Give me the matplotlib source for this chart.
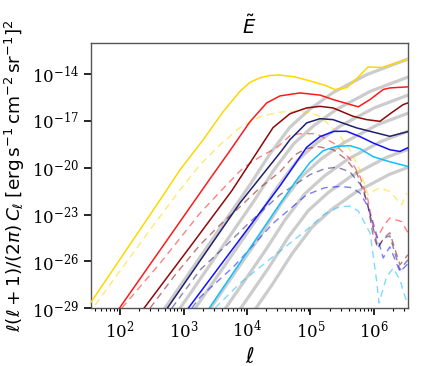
import numpy as np
import matplotlib
matplotlib.use("Agg")
import matplotlib.pyplot as plt

plt.rcParams['font.family'] = 'DejaVu Serif'
plt.rcParams['mathtext.fontset'] = 'dejavusans'

# ---- data: log10(ell) and log10(C) ----
gold_solid_l = [1.543, 2.63, 2.945, 3.31, 3.627, 3.89, 4.047, 4.205, 4.35, 4.5, 4.75, 5.0, 5.25, 5.386, 5.575, 5.75, 5.906, 6.126, 6.535]
gold_solid_c = [-28.60, -22.06, -20.13, -18.2, -16.39, -15.1, -14.53, -14.24, -14.1, -14.06, -14.18, -14.45, -14.75, -15.0, -14.87, -14.2, -13.55, -13.58, -13.05]
gold_dash_l = [1.606, 2.472, 2.945, 3.26, 3.575, 3.89, 4.205, 4.488, 4.756, 4.99, 5.15, 5.41, 5.62, 5.78, 5.905, 6.0, 6.094, 6.25, 6.436, 6.515]
gold_dash_c = [-28.79, -23.98, -21.41, -19.81, -18.53, -17.43, -16.73, -16.45, -16.37, -16.47, -16.71, -17.67, -18.85, -20.13, -21.73, -21.48, -21.29, -21.52, -22.38, -21.63]

red_solid_l = [1.99, 3.406, 3.732, 4.047, 4.31, 4.52, 4.835, 5.15, 5.36, 5.753, 5.937, 6.146, 6.25, 6.535]
red_solid_c = [-28.99, -20.77, -18.9, -17.05, -15.85, -15.4, -15.21, -15.35, -15.64, -16.1, -15.64, -14.99, -14.89, -14.82]
red_dash_l = [2.027, 2.63, 3.26, 3.575, 3.94, 4.205, 4.468, 4.677, 4.835, 5.098, 5.36, 5.62, 5.78, 5.905, 5.99, 6.047, 6.173, 6.25, 6.436, 6.535]
red_dash_c = [-28.99, -26.12, -22.91, -21.54, -20.0, -19.3, -18.72, -17.95, -17.82, -17.82, -18.42, -19.42, -20.56, -22.06, -23.85, -24.49, -23.6, -23.23, -23.45, -24.17]

maroon_solid_l = [2.378, 3.102, 3.759, 4.126, 4.41, 4.677, 4.94, 5.15, 5.354, 5.674, 5.885, 6.094, 6.28, 6.46, 6.535]
maroon_solid_c = [-28.99, -25.07, -21.48, -19.2, -17.43, -16.54, -16.17, -16.07, -16.17, -16.71, -16.92, -17.03, -16.47, -15.96, -15.85]
maroon_dash_l = [2.472, 2.866, 3.26, 3.575, 3.89, 4.205, 4.52, 4.756, 4.93, 5.118, 5.36, 5.57, 5.73, 5.905, 5.984, 6.063, 6.157, 6.25, 6.41, 6.535]
maroon_dash_c = [-28.99, -26.87, -24.94, -23.66, -22.5, -21.28, -20.26, -19.17, -18.78, -18.65, -18.85, -19.49, -20.34, -22.38, -24.3, -25.14, -24.5, -24.17, -26.22, -25.58]

navy_solid_l = [2.745, 3.89, 4.546, 4.677, 4.94, 5.15, 5.354, 5.727, 5.94, 6.25, 6.535]
navy_solid_c = [-28.99, -22.25, -18.91, -18.2, -17.13, -16.86, -16.92, -17.45, -17.67, -17.99, -17.69]
navy_dash_l = [2.815, 3.26, 3.68, 4.047, 4.52, 4.99, 5.228, 5.417, 5.62, 5.827, 5.94, 6.063, 6.157, 6.25, 6.41, 6.535]
navy_dash_c = [-28.99, -26.55, -24.94, -23.47, -21.73, -20.45, -20.06, -19.97, -20.26, -21.28, -23.02, -25.14, -24.5, -24.37, -26.55, -25.9]

blue_solid_l = [3.076, 4.047, 4.52, 4.772, 4.94, 5.15, 5.37, 5.57, 5.78, 5.99, 6.25, 6.41, 6.535]
blue_solid_c = [-28.99, -23.72, -21.16, -19.68, -18.69, -18.01, -17.67, -17.67, -18.01, -18.42, -18.85, -18.96, -18.72]
blue_dash_l = [3.13, 3.26, 3.784, 4.414, 4.94, 5.228, 5.465, 5.654, 5.78, 5.89, 5.99, 6.146, 6.25, 6.41, 6.535]
blue_dash_c = [-28.99, -28.29, -26.36, -23.55, -21.73, -21.28, -21.2, -21.28, -21.63, -22.38, -23.55, -25.78, -25.07, -26.66, -26.16]

cyan_solid_l = [3.406, 4.047, 4.52, 4.772, 4.99, 5.2, 5.41, 5.62, 5.78, 5.99, 6.25, 6.535]
cyan_solid_c = [-28.99, -25.14, -22.31, -20.84, -19.68, -18.91, -18.63, -18.59, -18.78, -19.30, -19.62, -19.92]
cyan_dash_l = [3.496, 3.89, 4.414, 4.94, 5.228, 5.465, 5.62, 5.75, 5.94, 6.04, 6.08, 6.2, 6.304, 6.41, 6.515]
cyan_dash_c = [-28.99, -27.4, -25.69, -23.98, -22.95, -22.49, -22.47, -22.76, -24.19, -27.19, -28.67, -26.98, -26.44, -27.19, -28.58]

gray1_l = [2.3, 4.047, 4.362, 4.677, 4.99, 5.354, 5.89, 6.6]
gray1_c = [-31.39, -21.09, -19.1, -17.4, -16.25, -15.19, -14.03, -12.94]
gray2_l = [2.358, 4.105, 4.42, 4.735, 5.048, 5.412, 5.948, 6.658]
gray2_c = [-32.458, -22.158, -20.168, -18.468, -17.318, -16.258, -15.098, -14.008]
gray3_l = [2.416, 4.163, 4.478, 4.793, 5.106, 5.47, 6.006, 6.716]
gray3_c = [-33.526, -23.226, -21.236, -19.536, -18.386, -17.326, -16.166, -15.076]
gray4_l = [2.474, 4.221, 4.536, 4.851, 5.164, 5.528, 6.064, 6.774]
gray4_c = [-34.594, -24.294, -22.304, -20.604, -19.454, -18.394, -17.234, -16.144]
gray5_l = [2.532, 4.279, 4.594, 4.909, 5.222, 5.586, 6.122, 6.832]
gray5_c = [-35.662, -25.362, -23.372, -21.672, -20.522, -19.462, -18.302, -17.212]
gray6_l = [2.59, 4.337, 4.652, 4.967, 5.28, 5.644, 6.18, 6.89]
gray6_c = [-36.73, -26.43, -24.44, -22.74, -21.59, -20.53, -19.37, -18.28]
gray7_l = [2.648, 4.395, 4.71, 5.025, 5.338, 5.702, 6.238, 6.948]
gray7_c = [-37.798, -27.498, -25.508, -23.808, -22.658, -21.598, -20.438, -19.348]

series = [
    ('#FFD700', gold_solid_l, gold_solid_c, gold_dash_l, gold_dash_c),
    ('#FF1A1A', red_solid_l, red_solid_c, red_dash_l, red_dash_c),
    ('#8B0A0A', maroon_solid_l, maroon_solid_c, maroon_dash_l, maroon_dash_c),
    ('#1F1F70', navy_solid_l, navy_solid_c, navy_dash_l, navy_dash_c),
    ('#1010FF', blue_solid_l, blue_solid_c, blue_dash_l, blue_dash_c),
    ('#10BFFF', cyan_solid_l, cyan_solid_c, cyan_dash_l, cyan_dash_c),
]
grays = [(gray1_l, gray1_c), (gray2_l, gray2_c), (gray3_l, gray3_c),
         (gray4_l, gray4_c), (gray5_l, gray5_c), (gray6_l, gray6_c),
         (gray7_l, gray7_c)]

fig = plt.figure(figsize=(4.24, 3.66), dpi=100)
ax = fig.add_axes([0.215, 0.158, 0.747, 0.725])

for gl, gc in grays:
    ax.plot(10**np.array(gl), 10**np.array(gc), color='#cccccc', lw=2.3, zorder=1,
            solid_capstyle='butt', solid_joinstyle='round')
for col, sl, sc, dl, dc in series:
    ax.plot(10**np.array(dl), 10**np.array(dc), color=col, lw=1.0, ls=(0, (5, 3.5)),
            alpha=0.55, zorder=2)
    ax.plot(10**np.array(sl), 10**np.array(sc), color=col, lw=1.1, zorder=3)

ax.set_xscale('log')
ax.set_yscale('log')
ax.set_xlim(10**1.543, 10**6.535)
ax.set_ylim(1e-29, 1e-12)
ax.set_yticks([1e-29, 1e-26, 1e-23, 1e-20, 1e-17, 1e-14])
ax.yaxis.set_minor_locator(matplotlib.ticker.NullLocator())
ax.tick_params(axis='both', which='major', length=5, width=1.2, labelsize=12, direction='out')
ax.tick_params(axis='x', which='minor', length=2.5, width=0.8)
for s in ax.spines.values():
    s.set_color('#555555')
    s.set_linewidth(1.0)

ax.set_title(r'$\tilde{E}$', fontsize=14)
ax.set_xlabel(r'$\ell$', fontsize=15)
ax.set_ylabel(r'$\ell(\ell+1)/(2\pi)\,C_\ell\;[\mathrm{erg\,s^{-1}\,cm^{-2}\,sr^{-1}}]^2$', fontsize=13.3)

fig.savefig('out.png', dpi=100)
